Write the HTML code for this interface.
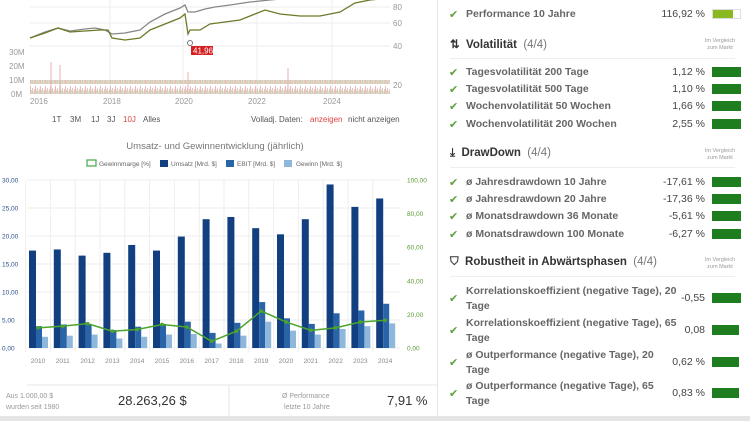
<!DOCTYPE html>
<html><head><meta charset="utf-8"><style>
body{margin:0;width:750px;height:421px;overflow:hidden;background:#fff;font-family:"Liberation Sans",sans-serif;position:relative}
.a{position:absolute;white-space:nowrap}
.r{font-size:10.5px;color:#666;font-weight:bold}
.v{font-size:10.5px;color:#444;text-align:right;width:60px}
.bar{position:absolute;height:10px;background:#1e7d1e;width:29px;left:712px}
.ck{position:absolute;left:449px;color:#5aa03a;font-size:11px}
.h{font-size:11.5px;font-weight:bold;color:#333}
.h span{font-weight:normal;color:#777}
.cmp{font-size:5.5px;color:#999;text-align:center;width:40px;line-height:7px}
.sep{position:absolute;left:450px;width:285px;height:1px;background:#eee}
</style></head><body>
<svg class="a" style="left:0;top:0" width="437" height="421">
<defs><pattern id="vp" width="5" height="14" patternUnits="userSpaceOnUse"><rect x="0" y="2" width="1" height="12" fill="#e6b0b0"/><rect x="1" y="6" width="1" height="8" fill="#c0dcb0"/><rect x="2" y="4" width="1" height="10" fill="#d8c0b0"/><rect x="3" y="7" width="1" height="7" fill="#c8e0b8"/><rect x="4" y="5" width="1" height="9" fill="#e8b8b8"/></pattern></defs>
<g stroke="#eee" stroke-width="1"><line x1="30" y1="7" x2="390" y2="7"/><line x1="30" y1="23" x2="390" y2="23"/><line x1="30" y1="46" x2="390" y2="46"/>
<line x1="110" y1="0" x2="110" y2="95"/><line x1="183" y1="0" x2="183" y2="95"/><line x1="257" y1="0" x2="257" y2="95"/><line x1="332" y1="0" x2="332" y2="95"/></g>
<rect x="30" y="80" width="360" height="14" fill="url(#vp)" opacity="0.85"/>
<g stroke="#e8b0b0"><line x1="51" y1="62" x2="51" y2="94"/><line x1="60" y1="65" x2="60" y2="94"/><line x1="288" y1="68" x2="288" y2="94"/><line x1="188" y1="72" x2="188" y2="94"/></g>
<polyline fill="none" stroke="#888" stroke-width="1.3" points="30,38 45,32 58,28 70,31 85,29 95,28 105,30 112,34 125,33 140,30 150,22 165,14 180,8 185,5 188,12 195,12 205,9 215,7 230,5 250,2 270,0 290,-2"/>
<polyline fill="none" stroke="#6b7a28" stroke-width="1.3" points="30,38 45,33 58,28 70,32 85,31 100,30 108,30 112,38 125,40 140,38 150,30 165,24 180,18 185,14 188,34 190,30 200,30 210,24 225,22 240,20 255,14 265,10 280,14 300,16 320,16 340,12 355,3 370,0 390,-2"/>
<circle cx="190" cy="43" r="2.5" fill="#fff" stroke="#777"/>
<rect x="191" y="46" width="22" height="9" fill="#d42020"/><text x="193" y="53.5" font-size="8" fill="#fff">41,96</text>
<g font-size="8" fill="#999"><text x="9" y="55">30M</text><text x="9" y="69">20M</text><text x="9" y="83">10M</text><text x="11" y="97">0M</text>
<text x="393" y="10">80</text><text x="393" y="26">60</text><text x="393" y="49">40</text><text x="393" y="88">20</text>
<text x="30" y="104">2016</text><text x="103" y="104">2018</text><text x="175" y="104">2020</text><text x="248" y="104">2022</text><text x="323" y="104">2024</text></g>
<g font-size="8" fill="#555"><text x="52" y="122">1T</text><text x="70" y="122">3M</text><text x="91" y="122">1J</text><text x="107" y="122">3J</text><text x="123" y="122" fill="#d44">10J</text><text x="143" y="122">Alles</text>
<text x="251" y="122">Volladj. Daten:</text><text x="310" y="122" fill="#d44">anzeigen</text><text x="348" y="122">nicht anzeigen</text></g>
<text x="215" y="149" font-size="9.5" fill="#777" text-anchor="middle">Umsatz- und Gewinnentwicklung (jährlich)</text>
<g font-size="6.5" fill="#666"><rect x="87" y="160" width="9" height="6" fill="#fff" stroke="#4a4" stroke-width="1.2"/><text x="99" y="166">Gewinnmarge [%]</text>
<rect x="160" y="160" width="8" height="7" fill="#123f80"/><text x="171" y="166">Umsatz [Mrd. $]</text>
<rect x="226" y="160" width="8" height="7" fill="#2a64a8"/><text x="237" y="166">EBIT [Mrd. $]</text>
<rect x="284" y="160" width="8" height="7" fill="#8fb7dc"/><text x="296" y="166">Gewinn [Mrd. $]</text></g>
<g id="bc"></g>
<line x1="27" y1="385" x2="437" y2="385" stroke="#e5e5e5"/><line x1="229" y1="385" x2="229" y2="421" stroke="#e5e5e5"/>
<g font-size="7" fill="#999"><text x="6" y="398">Aus 1.000,00 $</text><text x="6" y="409">wurden seit 1980</text><text x="282" y="398">Ø Performance</text><text x="284" y="409">letzte 10 Jahre</text></g>
<text x="118" y="405" font-size="13" fill="#333">28.263,26 $</text><text x="387" y="405" font-size="13" fill="#333">7,91 %</text>
<rect x="0" y="416" width="437" height="5" fill="#e5e5e5"/>
</svg>
<script>
var U=[17.4,17.6,16.5,17.0,18.4,17.4,19.9,23.0,23.4,21.4,20.3,23.0,29.2,25.2,26.7],E=[3.9,4.2,4.3,3.2,3.8,4.3,4.7,2.7,4.5,8.2,5.3,4.3,6.2,6.7,7.9],G=[2.0,2.2,2.4,1.7,2.0,2.4,2.5,0.8,2.2,4.7,3.1,2.4,3.4,3.9,4.4],M=[12,13,14.5,10,11,14,12.5,4,10,22,15.5,10.5,12,15.5,16.5];
var s='',i;
for(i=0;i<=6;i++){var y=348-i*28;s+='<line x1="27" y1="'+y+'" x2="400" y2="'+y+'" stroke="#eee"/>';s+='<text x="2" y="'+(y+2.5)+'" font-size="6.5" fill="#2a4f8a">'+(i*5).toFixed(2).replace('.',',')+'</text>';}
for(i=0;i<=5;i++){var y=348-i*33.6;s+='<text x="407" y="'+(y+2.5)+'" font-size="6.5" fill="#5a9a30">'+(i*20).toFixed(2).replace('.',',')+'</text>';}
var p='';
for(i=0;i<15;i++){var c=38+i*24.8;s+='<line x1="'+(c-12.4)+'" y1="180" x2="'+(c-12.4)+'" y2="352" stroke="#eee"/>';
s+='<rect x="'+(c-9)+'" y="'+(348-U[i]*5.6)+'" width="7" height="'+U[i]*5.6+'" fill="#123f80"/>';
s+='<rect x="'+(c-2)+'" y="'+(348-E[i]*5.6)+'" width="6" height="'+E[i]*5.6+'" fill="#2a64a8"/>';
s+='<rect x="'+(c+4)+'" y="'+(348-G[i]*5.6)+'" width="6" height="'+G[i]*5.6+'" fill="#8fb7dc"/>';
s+='<text x="'+c+'" y="363" font-size="6.5" fill="#888" text-anchor="middle">'+(2010+i)+'</text>';
p+=c+','+(348-M[i]*1.68)+' ';}
s+='<polyline fill="none" stroke="#4aa52a" stroke-width="1.5" points="'+p+'"/>';
p.trim().split(' ').forEach(function(q){var a=q.split(',');s+='<circle cx="'+a[0]+'" cy="'+a[1]+'" r="1.8" fill="#4aa52a"/>';});
document.getElementById('bc').innerHTML=s;
</script>
<div class="a" style="left:437px;top:0;width:1px;height:421px;background:#e5e5e5"></div>
<div class="a" style="left:438px;top:416px;width:312px;height:5px;background:#e5e5e5"></div>

<div class="ck" style="top:8px">✔</div><div class="a r" style="left:466px;top:8px">Performance 10 Jahre</div><div class="a v" style="left:645px;top:8px">116,92 %</div><div class="a" style="left:712px;top:9px;width:29px;height:10px;border:1px solid #ddd;box-sizing:border-box"><div style="width:20px;height:8px;background:#8ab820"></div></div>

<div class="a h" style="left:450px;top:37px">⇅ &nbsp;Volatilität <span>&nbsp;(4/4)</span></div><div class="a cmp" style="left:700px;top:38px">Im Vergleich<br>zum Markt</div><div class="sep" style="top:58px"></div>
<div class="ck" style="top:66px">✔</div><div class="a r" style="left:466px;top:66px">Tagesvolatilität 200 Tage</div><div class="a v" style="left:645px;top:66px">1,12 %</div><div class="bar" style="top:67px"></div>
<div class="ck" style="top:83px">✔</div><div class="a r" style="left:466px;top:83px">Tagesvolatilität 500 Tage</div><div class="a v" style="left:645px;top:83px">1,10 %</div><div class="bar" style="top:84px"></div>
<div class="ck" style="top:100px">✔</div><div class="a r" style="left:466px;top:100px">Wochenvolatilität 50 Wochen</div><div class="a v" style="left:645px;top:100px">1,66 %</div><div class="bar" style="top:101px"></div>
<div class="ck" style="top:118px">✔</div><div class="a r" style="left:466px;top:118px">Wochenvolatilität 200 Wochen</div><div class="a v" style="left:645px;top:118px">2,55 %</div><div class="bar" style="top:119px"></div>

<div class="a h" style="left:450px;top:147px">⤓ &nbsp;DrawDown <span>&nbsp;(4/4)</span></div><div class="a cmp" style="left:700px;top:148px">Im Vergleich<br>zum Markt</div><div class="sep" style="top:167px"></div>
<div class="ck" style="top:176px">✔</div><div class="a r" style="left:466px;top:176px">ø Jahresdrawdown 10 Jahre</div><div class="a v" style="left:645px;top:176px">-17,61 %</div><div class="bar" style="top:177px"></div>
<div class="ck" style="top:193px">✔</div><div class="a r" style="left:466px;top:193px">ø Jahresdrawdown 20 Jahre</div><div class="a v" style="left:645px;top:193px">-17,36 %</div><div class="bar" style="top:194px"></div>
<div class="ck" style="top:210px">✔</div><div class="a r" style="left:466px;top:210px">ø Monatsdrawdown 36 Monate</div><div class="a v" style="left:645px;top:210px">-5,61 %</div><div class="bar" style="top:211px"></div>
<div class="ck" style="top:228px">✔</div><div class="a r" style="left:466px;top:228px">ø Monatsdrawdown 100 Monate</div><div class="a v" style="left:645px;top:228px">-6,27 %</div><div class="bar" style="top:229px"></div>

<div class="a h" style="left:450px;top:256px">⛉ &nbsp;Robustheit in Abwärtsphasen <span>&nbsp;(4/4)</span></div><div class="a cmp" style="left:700px;top:257px">Im Vergleich<br>zum Markt</div><div class="sep" style="top:276px"></div>
<div class="ck" style="top:292px">✔</div><div class="a r" style="left:466px;top:284px;line-height:15px">Korrelationskoeffizient (negative Tage), 20<br>Tage</div><div class="a v" style="left:645px;top:292px">-0,55</div><div class="bar" style="top:293px"></div>
<div class="ck" style="top:324px">✔</div><div class="a r" style="left:466px;top:316px;line-height:15px">Korrelationskoeffizient (negative Tage), 65<br>Tage</div><div class="a v" style="left:645px;top:324px">0,08</div><div class="bar" style="top:325px;width:27px"></div>
<div class="ck" style="top:356px">✔</div><div class="a r" style="left:466px;top:348px;line-height:15px">ø Outperformance (negative Tage), 20<br>Tage</div><div class="a v" style="left:645px;top:356px">0,62 %</div><div class="bar" style="top:357px;width:27px"></div>
<div class="ck" style="top:387px">✔</div><div class="a r" style="left:466px;top:379px;line-height:15px">ø Outperformance (negative Tage), 65<br>Tage</div><div class="a v" style="left:645px;top:387px">0,83 %</div><div class="bar" style="top:388px;width:27px"></div>
</body></html>
